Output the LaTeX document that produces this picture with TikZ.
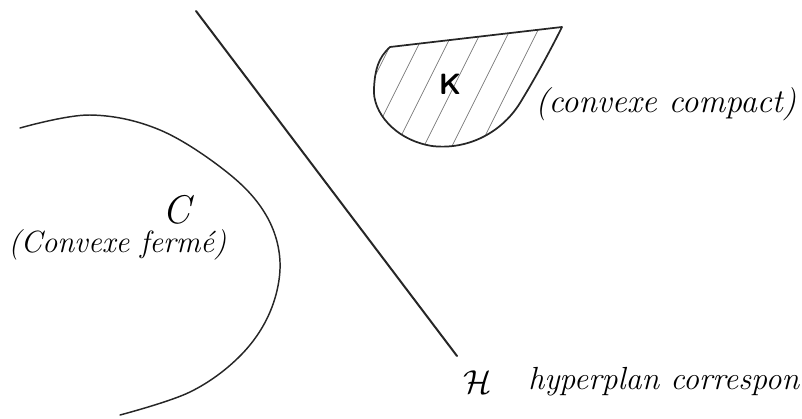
\documentclass[tikz,border=0pt]{standalone}
\usepackage{amsmath}
\begin{document}
\begin{tikzpicture}[x=0.75pt,y=-0.75pt,
  ink/.style={draw=black!85,line width=1.3pt,line cap=round,line join=round},
  hatch/.style={draw=black!55,line width=0.5pt},
  hand/.style={font=\fontsize{24}{28}\selectfont\itshape,inner sep=0pt,anchor=west}]
\useasboundingbox (0,0) rectangle (802,418);
\clip (0,0) rectangle (802,418);
% hyperplane
\coordinate (h1) at (196,11);
\coordinate (h2) at (457,356);
\draw[ink,line width=1.5pt] (h1) -- (h2);
% compact convex K
\def\Kpath{(390,47) -- (562,27) .. controls (548,55) and (534,80) .. (520,103) .. controls (500,135) and (465,150) .. (432,146) .. controls (395,140) and (372,112) .. (374,88) .. controls (375,70) and (378,58) .. (390,47) -- cycle}
\begin{scope}
\clip \Kpath;
\foreach \x in {300,328,...,600} {\draw[hatch] (\x,170) -- (\x+85,0);}
\end{scope}
\draw[ink] \Kpath;
\node[font=\fontsize{22}{24}\selectfont\sffamily\bfseries,inner sep=0pt] (K) at (450,84) {K};
\node[hand,font=\fontsize{25}{28}\selectfont\itshape] (Klab) at (535,104) {(convexe compact)};
% closed convex C
\draw[ink,line width=1.1pt] plot[smooth,tension=0.6] coordinates {(20,128) (90,115) (160,130) (228,173) (266,215) (280,262) (270,312) (240,356) (190,392) (120,415)};
\node[font=\fontsize{30}{32}\selectfont\itshape,inner sep=0pt] (C) at (176,210) {C};
\node[hand,font=\fontsize{23}{26}\selectfont\itshape] (Clab) at (8,245) {(Convexe ferm\'e)};
% hyperplane label
\node[font=\fontsize{26}{28}\selectfont,inner sep=0pt] (H) at (478,382) {$\mathcal{H}$};
\node[hand] (Hlab) at (528,382) {hyperplan correspon};
\end{tikzpicture}
\end{document}
